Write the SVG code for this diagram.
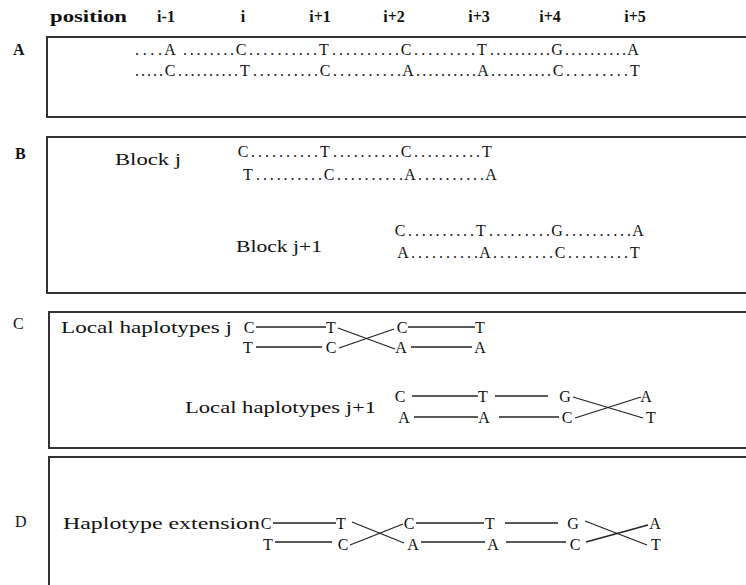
<svg xmlns="http://www.w3.org/2000/svg" width="746" height="585" viewBox="0 0 746 585">
  <style>
    .t { font-family: "Liberation Serif", "DejaVu Serif", serif; font-size: 16px; fill: #111; }
    .h { font-weight: bold; }
    .m { text-anchor: middle; }
    .box { fill: #fff; stroke: #333; stroke-width: 2; }
    .ln { stroke: #222; stroke-width: 1.3; fill: none; }
  </style>
  <rect width="746" height="585" fill="#fff"/>

  <!-- column header -->
  <g id="header" class="t h">
    <text x="50" y="22" textLength="77" lengthAdjust="spacingAndGlyphs">position</text>
    <text class="m" x="166" y="22">i-1</text>
    <text class="m" x="243" y="22">i</text>
    <text class="m" x="320" y="22">i+1</text>
    <text class="m" x="394" y="22">i+2</text>
    <text class="m" x="479" y="22">i+3</text>
    <text class="m" x="550" y="22">i+4</text>
    <text class="m" x="635" y="22">i+5</text>
  </g>

  <!-- panel A: aligned sequences -->
  <g id="panel-a">
    <rect class="box" x="47" y="37" width="720" height="80"/>
    <text class="t h" x="13" y="55">A</text>
    <g class="t">
      <text x="135" y="55" textLength="27" lengthAdjust="spacing">....</text>
      <text class="m" x="170" y="55">A</text>
      <text x="183" y="55" textLength="51" lengthAdjust="spacing">........</text>
      <text class="m" x="241" y="55">C</text>
      <text x="249" y="55" textLength="68" lengthAdjust="spacing">..........</text>
      <text class="m" x="324" y="55">T</text>
      <text x="332" y="55" textLength="67" lengthAdjust="spacing">..........</text>
      <text class="m" x="406" y="55">C</text>
      <text x="414" y="55" textLength="61" lengthAdjust="spacing">.........</text>
      <text class="m" x="482" y="55">T</text>
      <text x="490" y="55" textLength="60" lengthAdjust="spacing">..........</text>
      <text class="m" x="557" y="55">G</text>
      <text x="565" y="55" textLength="61" lengthAdjust="spacing">..........</text>
      <text class="m" x="633" y="55">A</text>

      <text x="135" y="76" textLength="28" lengthAdjust="spacing">.....</text>
      <text class="m" x="170" y="76">C</text>
      <text x="178" y="76" textLength="60" lengthAdjust="spacing">..........</text>
      <text class="m" x="245" y="76">T</text>
      <text x="253" y="76" textLength="65" lengthAdjust="spacing">..........</text>
      <text class="m" x="325" y="76">C</text>
      <text x="333" y="76" textLength="68" lengthAdjust="spacing">..........</text>
      <text class="m" x="408" y="76">A</text>
      <text x="416" y="76" textLength="60" lengthAdjust="spacing">..........</text>
      <text class="m" x="483" y="76">A</text>
      <text x="491" y="76" textLength="60" lengthAdjust="spacing">..........</text>
      <text class="m" x="558" y="76">C</text>
      <text x="566" y="76" textLength="62" lengthAdjust="spacing">.........</text>
      <text class="m" x="635" y="76">T</text>
    </g>
  </g>

  <!-- panel B: blocks -->
  <g id="panel-b">
    <rect class="box" x="47" y="137" width="720" height="156"/>
    <text class="t h" x="15" y="159">B</text>
    <g class="t">
      <text x="115" y="165" textLength="66" lengthAdjust="spacingAndGlyphs">Block j</text>
      <text class="m" x="243" y="157">C</text>
      <text x="251" y="157" textLength="67" lengthAdjust="spacing">..........</text>
      <text class="m" x="325" y="157">T</text>
      <text x="333" y="157" textLength="66" lengthAdjust="spacing">..........</text>
      <text class="m" x="406" y="157">C</text>
      <text x="414" y="157" textLength="66" lengthAdjust="spacing">..........</text>
      <text class="m" x="487" y="157">T</text>

      <text class="m" x="248" y="180">T</text>
      <text x="256" y="180" textLength="66" lengthAdjust="spacing">..........</text>
      <text class="m" x="329" y="180">C</text>
      <text x="337" y="180" textLength="66" lengthAdjust="spacing">..........</text>
      <text class="m" x="410" y="180">A</text>
      <text x="418" y="180" textLength="66" lengthAdjust="spacing">..........</text>
      <text class="m" x="491" y="180">A</text>

      <text x="236" y="252" textLength="86" lengthAdjust="spacingAndGlyphs">Block j+1</text>
      <text class="m" x="400" y="236">C</text>
      <text x="408" y="236" textLength="66" lengthAdjust="spacing">..........</text>
      <text class="m" x="481" y="236">T</text>
      <text x="489" y="236" textLength="61" lengthAdjust="spacing">.........</text>
      <text class="m" x="557" y="236">G</text>
      <text x="565" y="236" textLength="66" lengthAdjust="spacing">..........</text>
      <text class="m" x="638" y="236">A</text>

      <text class="m" x="403" y="258">A</text>
      <text x="411" y="258" textLength="67" lengthAdjust="spacing">..........</text>
      <text class="m" x="485" y="258">A</text>
      <text x="493" y="258" textLength="60" lengthAdjust="spacing">.........</text>
      <text class="m" x="560" y="258">C</text>
      <text x="568" y="258" textLength="60" lengthAdjust="spacing">.........</text>
      <text class="m" x="635" y="258">T</text>
    </g>
  </g>

  <!-- panel C: local haplotypes -->
  <g id="panel-c">
    <rect class="box" x="49" y="312" width="720" height="136"/>
    <text class="t" x="13" y="329">C</text>
    <g class="t">
      <text x="61" y="333" textLength="171" lengthAdjust="spacingAndGlyphs">Local haplotypes j</text>
      <text class="m" x="249" y="333">C</text>
      <text class="m" x="331" y="333">T</text>
      <text class="m" x="402" y="333">C</text>
      <text class="m" x="480" y="333">T</text>
      <text class="m" x="248" y="353">T</text>
      <text class="m" x="331" y="353">C</text>
      <text class="m" x="401" y="353">A</text>
      <text class="m" x="480" y="353">A</text>

      <text x="185" y="413" textLength="191" lengthAdjust="spacingAndGlyphs">Local haplotypes j+1</text>
      <text class="m" x="400" y="402">C</text>
      <text class="m" x="483" y="402">T</text>
      <text class="m" x="565" y="402">G</text>
      <text class="m" x="646" y="402">A</text>
      <text class="m" x="404" y="423">A</text>
      <text class="m" x="484" y="423">A</text>
      <text class="m" x="567" y="423">C</text>
      <text class="m" x="651" y="423">T</text>
    </g>
  </g>

  <!-- panel D: extended haplotype -->
  <g id="panel-d">
    <rect class="box" x="49" y="457" width="720" height="200"/>
    <text class="t" x="15" y="527">D</text>
    <g class="t">
      <text x="63" y="529" textLength="197" lengthAdjust="spacingAndGlyphs">Haplotype extension</text>
      <text class="m" x="266" y="529">C</text>
      <text class="m" x="341" y="529">T</text>
      <text class="m" x="409" y="529">C</text>
      <text class="m" x="490" y="529">T</text>
      <text class="m" x="573" y="529">G</text>
      <text class="m" x="655" y="529">A</text>
      <text class="m" x="268" y="550">T</text>
      <text class="m" x="343" y="550">C</text>
      <text class="m" x="413" y="550">A</text>
      <text class="m" x="493" y="550">A</text>
      <text class="m" x="575" y="550">C</text>
      <text class="m" x="656" y="550">T</text>
    </g>
  </g>

  <!-- haplotype links -->
  <g id="connectors" class="ln">
    <!-- C: local haplotypes j -->
    <line x1="256" y1="327" x2="326" y2="327"/>
    <line x1="256" y1="347" x2="322" y2="347"/>
    <line x1="338" y1="328" x2="395" y2="349"/>
    <line x1="339" y1="348" x2="394" y2="329"/>
    <line x1="408" y1="327" x2="475" y2="327"/>
    <line x1="411" y1="347" x2="472" y2="347"/>
    <!-- C: local haplotypes j+1 -->
    <line x1="412" y1="396" x2="478" y2="396"/>
    <line x1="495" y1="396" x2="548" y2="396"/>
    <line x1="573" y1="397" x2="643" y2="418"/>
    <line x1="414" y1="417" x2="478" y2="417"/>
    <line x1="499" y1="417" x2="559" y2="417"/>
    <line x1="575" y1="418" x2="641" y2="397"/>
    <!-- D: extension -->
    <line x1="273" y1="523" x2="336" y2="523"/>
    <line x1="275" y1="542" x2="332" y2="542"/>
    <line x1="352" y1="522" x2="404" y2="543"/>
    <line x1="350" y1="545" x2="403" y2="524"/>
    <line x1="416" y1="523" x2="484" y2="523"/>
    <line x1="421" y1="542" x2="485" y2="542"/>
    <line x1="505" y1="523" x2="558" y2="523"/>
    <line x1="506" y1="542" x2="566" y2="542"/>
    <line x1="585" y1="521" x2="647" y2="545"/>
    <line x1="586" y1="542" x2="648" y2="525"/>
  </g>
</svg>
